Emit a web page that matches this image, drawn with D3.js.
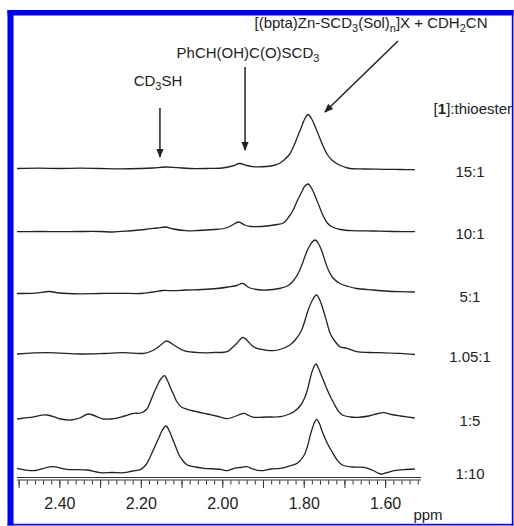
<!DOCTYPE html>
<html>
<head>
<meta charset="utf-8">
<script src="https://cdn.jsdelivr.net/npm/d3@7"></script>
<style>
  body { margin: 0; background: #fff; }
  svg { display: block; }
  text { font-family: "Liberation Sans", Arial, sans-serif; fill: #222; }
</style>
</head>
<body>
<svg id="chart"></svg>
<script>
// ratio labels, top to bottom
var ratios = ["15:1", "10:1", "5:1", "1.05:1", "1:5", "1:10"];

// spectra: [ppm, intensity]
var spec15 = [[2.504,0],[2.45,0.3],[2.40,0],[2.35,0.3],[2.30,0],[2.25,-0.3],[2.20,0],[2.17,0.5],[2.14,1.5],[2.11,0.8],[2.08,0],[2.04,0],[2.00,0.5],[1.975,2.5],[1.957,5],[1.94,3],[1.925,1.8],[1.91,1.6],[1.88,2.5],[1.86,5],[1.85,8],[1.835,14],[1.825,22],[1.815,32],[1.805,42],[1.797,50],[1.789,54],[1.781,50],[1.772,42],[1.762,32],[1.752,22],[1.742,14],[1.731,8.5],[1.715,4],[1.70,1.5],[1.686,0],[1.65,-0.5],[1.60,-0.8],[1.563,-1],[1.527,-1.2]];

var spec10 = [[2.504,-0.7],[2.45,-0.5],[2.40,-0.7],[2.35,-0.5],[2.30,-0.5],[2.27,-1],[2.23,0],[2.19,1.5],[2.16,3],[2.14,4],[2.12,2],[2.09,0.3],[2.06,0.5],[2.02,1.5],[1.99,3],[1.975,6],[1.96,9],[1.945,6],[1.93,4.5],[1.915,4.3],[1.89,5],[1.865,6.5],[1.85,8],[1.835,15],[1.826,21],[1.815,31],[1.805,39],[1.797,45],[1.789,47],[1.781,43],[1.772,35],[1.762,25],[1.752,15],[1.742,8],[1.73,4],[1.71,1.5],[1.68,0.3],[1.63,0],[1.58,-0.5],[1.527,-0.7]];

var spec5 = [[2.504,0],[2.46,0.3],[2.425,2],[2.40,0.5],[2.35,-0.3],[2.30,0],[2.25,0.2],[2.20,0],[2.17,1.5],[2.145,3],[2.12,2.8],[2.09,3.5],[2.05,4],[2.013,5],[1.985,6.5],[1.965,8],[1.949,10],[1.935,6],[1.915,4],[1.89,3.5],[1.86,5],[1.84,7.5],[1.828,11.5],[1.815,19],[1.805,28],[1.797,37],[1.789,45],[1.78,51],[1.772,53.5],[1.764,50],[1.756,43],[1.748,33],[1.740,24],[1.728,15.5],[1.711,10],[1.69,7],[1.67,5],[1.63,3.5],[1.60,2.5],[1.563,1.8],[1.527,1.5]];

var spec105 = [[2.504,-0.5],[2.43,0.8],[2.348,-0.5],[2.29,0],[2.242,0.8],[2.192,0.2],[2.168,3.5],[2.151,8.5],[2.137,12.5],[2.119,8.5],[2.094,2.8],[2.053,0.8],[2.02,1],[1.988,1.8],[1.975,6],[1.964,10.2],[1.950,16.2],[1.940,13.5],[1.927,8],[1.915,5.2],[1.895,3.5],[1.875,2.8],[1.855,4.5],[1.834,8.5],[1.82,14],[1.805,23.5],[1.797,33],[1.789,43.5],[1.779,53],[1.769,58.5],[1.76,53],[1.752,43.5],[1.743,31],[1.735,20],[1.723,12],[1.711,6.8],[1.694,5.2],[1.670,1.8],[1.64,1],[1.611,0.8],[1.563,0.2],[1.527,-1]];

var spec1to5 = [[2.504,-1],[2.471,0.7],[2.43,3],[2.397,-1],[2.372,-2],[2.35,0],[2.328,4],[2.30,0],[2.291,-1],[2.266,-0.7],[2.24,2],[2.217,4.7],[2.20,5],[2.185,9],[2.176,17],[2.168,25],[2.160,32],[2.151,39],[2.142,42.3],[2.134,37],[2.127,30],[2.119,23],[2.111,16],[2.10,11],[2.086,8.7],[2.06,6],[2.037,4],[2.01,1.5],[1.988,-0.7],[1.96,3],[1.947,4.7],[1.935,2.5],[1.922,0.7],[1.89,1],[1.857,1.3],[1.835,4],[1.824,6.3],[1.807,13],[1.798,20],[1.791,28],[1.785,38],[1.779,47],[1.770,54],[1.763,49],[1.758,44],[1.75,36],[1.742,28],[1.734,21],[1.726,14.7],[1.715,7],[1.705,3],[1.685,1],[1.668,0.7],[1.64,2],[1.618,4.5],[1.603,5.3],[1.585,3.5],[1.562,2],[1.527,0]];

var spec1to10 = [[2.504,0.7],[2.463,-1.7],[2.418,2.3],[2.381,-0.3],[2.332,-1],[2.299,-3.7],[2.27,-3.5],[2.242,-3.7],[2.22,-2],[2.200,-0.3],[2.186,5],[2.176,13],[2.166,22],[2.156,31],[2.147,39],[2.138,43],[2.130,38],[2.123,31],[2.114,22],[2.106,14],[2.096,8],[2.086,4],[2.065,2],[2.045,0.7],[2.004,-0.3],[1.988,-1.7],[1.971,0.7],[1.955,1.5],[1.939,2.3],[1.925,0],[1.906,-1.7],[1.88,0],[1.857,0.7],[1.835,3],[1.816,5.7],[1.80,13],[1.791,22.3],[1.783,35],[1.775,45],[1.768,49.7],[1.761,45],[1.755,38],[1.750,33],[1.740,24],[1.730,17],[1.718,9],[1.705,4],[1.68,2],[1.652,1.7],[1.63,-1.5],[1.611,-5],[1.595,-3.5],[1.578,-1.7],[1.55,-0.5],[1.527,0]];

var spectra = [spec15, spec10, spec5, spec105, spec1to5, spec1to10];

// axis ticks
var majorTicks = [2.5, 2.4, 2.3, 2.2, 2.1, 2.0, 1.9, 1.8, 1.7, 1.6];
var tickLabels = ["2.40", "2.20", "2.00", "1.80", "1.60"];

var W = 514, H = 526;

var svg = d3.select("#chart")
    .attr("width", W)
    .attr("height", H);

var x = d3.scaleLinear()
    .domain([2.504, 1.512])
    .range([17, 421]);

// baseline of each trace
var row = d3.scaleOrdinal()
    .domain(ratios)
    .range([168.5, 231, 293.5, 353.5, 418, 469]);

var amp = d3.scaleLinear()
    .domain([0, 60])
    .range([0, 60]);

// frame
svg.append("rect").attr("x", 7.5).attr("y", 10).attr("width", 6).attr("height", 515.5).attr("fill", "#0000ff");
svg.append("rect").attr("x", 7.5).attr("y", 10).attr("width", 506).attr("height", 5.5).attr("fill", "#0000ff");
svg.append("rect").attr("x", 511.8).attr("y", 10).attr("width", 1.6).attr("height", 515.5).attr("fill", "#0000ff");
svg.append("rect").attr("x", 7.5).attr("y", 523.8).attr("width", 506).attr("height", 1.6).attr("fill", "#0000ff");

// traces
spectra.forEach(function(s, i) {
    var base = row(ratios[i]);
    var line = d3.line()
        .x(function(d) { return x(d[0]); })
        .y(function(d) { return base - amp(d[1]); })
        .curve(d3.curveCatmullRom.alpha(0.5));

    svg.append("path")
        .attr("d", line(s))
        .attr("fill", "none")
        .attr("stroke", "#222")
        .attr("stroke-width", 1.3)
        .attr("stroke-linejoin", "round");

    svg.append("text")
        .attr("x", 470)
        .attr("y", base + (i === 5 ? 10 : 8))
        .attr("text-anchor", "middle")
        .style("font-size", "15px")
        .text(ratios[i]);
});

// axis: double line + ticks
var axisY = 477.5;
svg.append("line").attr("x1", x.range()[0]).attr("x2", x.range()[1]).attr("y1", axisY).attr("y2", axisY)
    .attr("stroke", "#333").attr("stroke-width", 1);
svg.append("line").attr("x1", x.range()[0]).attr("x2", x.range()[1]).attr("y1", axisY + 2.5).attr("y2", axisY + 2.5)
    .attr("stroke", "#333").attr("stroke-width", 1);

var minorAxis = d3.axisBottom(x)
    .tickValues(d3.range(0, 50).map(function(k) { return +(2.50 - k * 0.02).toFixed(2); }).filter(function(v) { return v >= 1.512; }))
    .tickSize(4)
    .tickSizeOuter(0)
    .tickFormat("");

var majorAxis = d3.axisBottom(x)
    .tickValues(majorTicks)
    .tickSize(7.5)
    .tickSizeOuter(0)
    .tickFormat(function(d) {
        var s = d.toFixed(2);
        return tickLabels.indexOf(s) >= 0 ? s : "";
    });

svg.append("g")
    .attr("class", "axis minor")
    .attr("transform", "translate(0," + (axisY + 3) + ")")
    .call(minorAxis);

var gMajor = svg.append("g")
    .attr("class", "axis major")
    .attr("transform", "translate(0," + (axisY + 3) + ")")
    .call(majorAxis);

svg.selectAll(".axis .domain").remove();
svg.selectAll(".axis line").attr("stroke", "#333").attr("stroke-width", 1);
gMajor.selectAll("text")
    .attr("y", 17)
    .attr("dy", "0.71em")
    .style("font-size", "16px")
    .style("font-family", "'Liberation Sans', Arial, sans-serif")
    .attr("fill", "#222");

svg.append("text")
    .attr("x", 428)
    .attr("y", 520)
    .attr("text-anchor", "middle")
    .style("font-size", "15px")
    .text("ppm");

// arrows
var defs = svg.append("defs");
defs.append("marker")
    .attr("id", "head")
    .attr("viewBox", "0 0 10 10")
    .attr("refX", 9)
    .attr("refY", 5)
    .attr("markerWidth", 9)
    .attr("markerHeight", 9)
    .attr("markerUnits", "userSpaceOnUse")
    .attr("orient", "auto")
    .append("path")
    .attr("d", "M0,1 L10,5 L0,9 Z")
    .attr("fill", "#222");

function arrow(x1, y1, x2, y2) {
    svg.append("line")
        .attr("x1", x1).attr("y1", y1).attr("x2", x2).attr("y2", y2)
        .attr("stroke", "#222")
        .attr("stroke-width", 1.5)
        .attr("marker-end", "url(#head)");
}

arrow(x(2.153), 108, x(2.153), 157);
arrow(x(1.944), 67, x(1.944), 150);
arrow(398, 41, x(1.748), 112);

// annotation labels
svg.append("text")
    .attr("x", 158).attr("y", 86)
    .attr("text-anchor", "middle")
    .style("font-size", "15px")
    .call(function(t) {
        t.append("tspan").text("CD");
        t.append("tspan").attr("dy", 4).style("font-size", "11px").text("3");
        t.append("tspan").attr("dy", -4).text("SH");
    });

svg.append("text")
    .attr("x", 248).attr("y", 58)
    .attr("text-anchor", "middle")
    .style("font-size", "15px")
    .call(function(t) {
        t.append("tspan").text("PhCH(OH)C(O)SCD");
        t.append("tspan").attr("dy", 4).style("font-size", "11px").text("3");
    });

svg.append("text")
    .attr("x", 371).attr("y", 28)
    .attr("text-anchor", "middle")
    .style("font-size", "15px")
    .call(function(t) {
        t.append("tspan").text("[(bpta)Zn-SCD");
        t.append("tspan").attr("dy", 4).style("font-size", "11px").text("3");
        t.append("tspan").attr("dy", -4).text("(Sol)");
        t.append("tspan").attr("dy", 4).style("font-size", "11px").text("n");
        t.append("tspan").attr("dy", -4).text("]X + CDH");
        t.append("tspan").attr("dy", 4).style("font-size", "11px").text("2");
        t.append("tspan").attr("dy", -4).text("CN");
    });

svg.append("text")
    .attr("x", 512).attr("y", 114)
    .attr("text-anchor", "end")
    .style("font-size", "15px")
    .call(function(t) {
        t.append("tspan").text("[");
        t.append("tspan").style("font-weight", "bold").text("1");
        t.append("tspan").text("]:thioester");
    });
</script>
</body>
</html>
